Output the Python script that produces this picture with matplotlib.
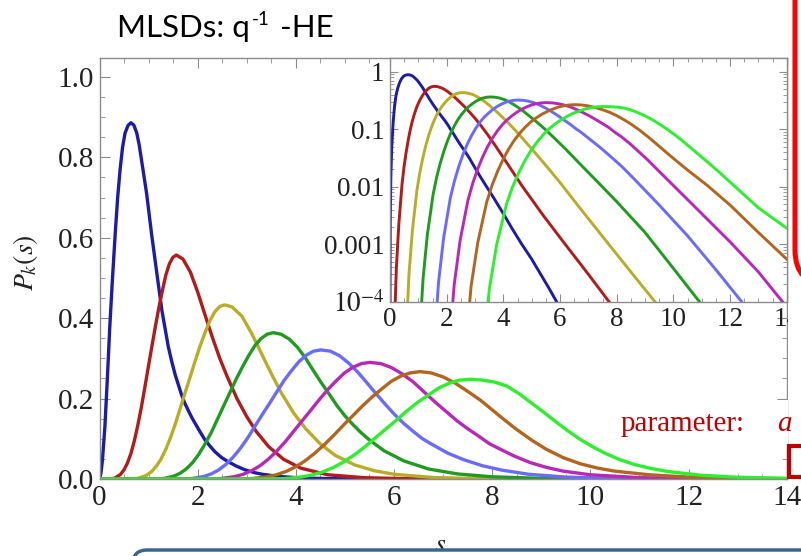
import numpy as np
import matplotlib
matplotlib.use('Agg')
import matplotlib.pyplot as plt
from matplotlib.patches import FancyBboxPatch, Rectangle
from matplotlib.transforms import Affine2D
from matplotlib.ticker import (MultipleLocator, FixedLocator, FixedFormatter,
                               LogLocator, NullFormatter, FormatStrFormatter)

plt.rcParams['mathtext.fontset'] = 'stix'
plt.rcParams['font.family'] = ['Liberation Serif', 'DejaVu Sans']

# ---------------- data ----------------
s_blue = [0, 0.002, 0.01, 0.03, 0.06, 0.11, 0.16, 0.21, 0.265, 0.32, 0.37, 0.42, 0.47, 0.52, 0.58,
          0.64, 0.70, 0.76, 0.81, 0.86, 0.91, 0.96, 1.01, 1.06, 1.115, 1.17, 1.22, 1.27, 1.335, 1.40,
          1.47, 1.54, 1.61, 1.67, 1.74, 1.81, 1.88, 1.95, 2.05, 2.15, 2.25, 2.35, 2.48, 2.62, 2.79,
          2.96, 3.15, 3.33, 3.65, 4.0, 4.3, 4.65, 5.0, 5.3, 5.6, 5.88, 6.5, 8.0, 14.0]
p_blue = [0, 1.8e-4, 0.0025, 0.015, 0.047, 0.13, 0.25, 0.38, 0.50, 0.61, 0.70, 0.77, 0.825, 0.86, 0.879,
          0.886, 0.880, 0.86, 0.83, 0.79, 0.75, 0.71, 0.66, 0.61, 0.56, 0.51, 0.465, 0.42, 0.375, 0.33,
          0.293, 0.26, 0.233, 0.21, 0.188, 0.17, 0.153, 0.138, 0.117, 0.097, 0.082, 0.068, 0.054, 0.043, 0.032,
          0.023, 0.016, 0.0115, 0.0065, 0.0034, 0.0019, 0.001, 5.5e-4, 3.1e-4, 1.75e-4, 1e-4, 3.2e-5, 2e-6, 1e-10]

s_red = [0, 0.111, 0.168, 0.225, 0.311, 0.425, 0.496, 0.567, 0.639, 0.71, 0.781, 0.852, 0.924, 0.995, 1.066,
         1.138, 1.209, 1.28, 1.351, 1.423, 1.494, 1.565, 1.7, 1.85, 2.0, 2.15, 2.3, 2.45, 2.6, 2.8,
         3.0, 3.2, 3.45, 3.75, 4.1, 4.65, 5.4, 6.18, 7.0, 7.73, 9.0, 14.0]
p_red = [0, 0, 5.6e-5, 3.9e-4, 0.0022, 0.0111, 0.0223, 0.039, 0.063, 0.095, 0.134, 0.178, 0.228, 0.279, 0.329,
         0.379, 0.426, 0.468, 0.507, 0.535, 0.551, 0.557, 0.547, 0.515, 0.465, 0.408, 0.352, 0.30, 0.255, 0.20,
         0.155, 0.117, 0.08, 0.049, 0.027, 0.0105, 0.0032, 0.001, 3e-4, 1e-4, 1.4e-5, 1e-10]

s_olive = [0, 0.51, 0.59, 0.67, 0.79, 0.95, 1.05, 1.15, 1.25, 1.35, 1.45, 1.55, 1.65, 1.75, 1.85,
           1.95, 2.05, 2.15, 2.25, 2.35, 2.45, 2.55, 2.7, 2.9, 3.1, 3.3, 3.5, 3.7, 3.95, 4.2,
           4.5, 4.8, 5.2, 5.6, 6.0, 6.8, 7.65, 8.5, 9.35, 11.0, 14.0]
p_olive = [0, 0, 4.3e-5, 3.0e-4, 0.00173, 0.00866, 0.0173, 0.0303, 0.0489, 0.0736, 0.104, 0.139, 0.178, 0.217, 0.255,
           0.294, 0.331, 0.364, 0.394, 0.416, 0.429, 0.433, 0.428, 0.405, 0.362, 0.312, 0.262, 0.215, 0.165, 0.125,
           0.087, 0.059, 0.035, 0.0205, 0.0118, 0.0037, 0.0011, 3.3e-4, 1e-4, 9e-6, 1e-10]

s_green = [0, 0.964, 1.065, 1.166, 1.318, 1.52, 1.646, 1.772, 1.899, 2.025, 2.151, 2.278, 2.404, 2.53, 2.656,
           2.783, 2.909, 3.035, 3.161, 3.288, 3.414, 3.54, 3.70, 3.865, 4.03, 4.19, 4.35, 4.515, 4.68, 4.84,
           5.0, 5.165, 5.33, 5.49, 5.8, 6.2, 6.7, 7.3, 8.0, 9.0, 10.0, 10.92, 12.0, 14.0]
p_green = [0, 0, 3.6e-5, 2.5e-4, 0.00146, 0.00728, 0.0146, 0.0255, 0.0411, 0.0619, 0.0874, 0.116, 0.149, 0.182, 0.215,
           0.248, 0.278, 0.306, 0.331, 0.349, 0.360, 0.364, 0.360, 0.348, 0.328, 0.302, 0.271, 0.240, 0.211, 0.182,
           0.157, 0.135, 0.115, 0.098, 0.07, 0.045, 0.025, 0.0125, 0.0055, 0.0016, 3.8e-4, 1e-4, 1.2e-5, 1e-10]

s_lblue = [0, 1.475, 1.594, 1.714, 1.892, 2.13, 2.279, 2.428, 2.576, 2.725, 2.874, 3.023, 3.171, 3.32, 3.469,
           3.618, 3.766, 3.915, 4.064, 4.213, 4.361, 4.51, 4.70, 4.885, 5.07, 5.26, 5.45, 5.635, 5.82, 6.01,
           6.20, 6.385, 6.57, 6.76, 7.1, 7.42, 7.8, 8.2, 8.74, 9.5, 10.5, 11.5, 12.41, 13.5, 14.0]
p_lblue = [0, 0, 3.2e-5, 2.2e-4, 0.00128, 0.00642, 0.0128, 0.0225, 0.0363, 0.0546, 0.077, 0.103, 0.132, 0.161, 0.189,
           0.218, 0.246, 0.270, 0.292, 0.308, 0.318, 0.321, 0.318, 0.307, 0.289, 0.266, 0.239, 0.212, 0.186, 0.1605,
           0.138, 0.119, 0.101, 0.087, 0.064, 0.048, 0.033, 0.022, 0.0118, 0.0048, 0.0014, 3.6e-4, 1e-4, 1.5e-5, 5e-6]

s_magenta = [0, 1.991, 2.129, 2.267, 2.474, 2.75, 2.923, 3.095, 3.268, 3.44, 3.613, 3.785, 3.958, 4.13, 4.303,
             4.475, 4.648, 4.82, 4.993, 5.165, 5.338, 5.51, 5.73, 5.95, 6.17, 6.395, 6.616, 6.84, 7.06, 7.28,
             7.50, 7.72, 7.94, 8.165, 8.45, 8.77, 9.1, 9.45, 10.0, 11.0, 12.0, 13.0, 13.85, 14.0]
p_magenta = [0, 0, 2.9e-5, 2.0e-4, 0.00116, 0.0058, 0.0116, 0.0203, 0.0328, 0.0493, 0.0696, 0.0928, 0.119, 0.145, 0.171,
             0.197, 0.222, 0.244, 0.264, 0.278, 0.287, 0.29, 0.287, 0.277, 0.261, 0.241, 0.216, 0.191, 0.168, 0.145,
             0.125, 0.107, 0.088, 0.074, 0.057, 0.041, 0.029, 0.0195, 0.0105, 0.0034, 0.0011, 3.3e-4, 1e-4, 8e-5]

s_brown = [0, 2.552, 2.708, 2.864, 3.098, 3.41, 3.605, 3.80, 3.995, 4.19, 4.385, 4.58, 4.775, 4.97, 5.165,
           5.36, 5.555, 5.75, 5.945, 6.14, 6.335, 6.53, 6.75, 7.0, 7.25, 7.5, 7.76, 8.0, 8.25, 8.5,
           8.8, 9.1, 9.45, 9.79, 10.15, 10.5, 11.2, 12.0, 13.0, 14.0]
p_brown = [0, 0, 2.7e-5, 1.9e-4, 0.00107, 0.00534, 0.0107, 0.0187, 0.0302, 0.0454, 0.0641, 0.0854, 0.109, 0.134, 0.158,
           0.182, 0.204, 0.224, 0.243, 0.256, 0.264, 0.267, 0.264, 0.254, 0.238, 0.218, 0.196, 0.172, 0.147, 0.123,
           0.097, 0.074, 0.053, 0.038, 0.027, 0.0195, 0.0105, 0.0048, 0.0016, 5.5e-4]

s_lgreen = [0, 3.164, 3.336, 3.508, 3.766, 4.11, 4.325, 4.54, 4.755, 4.97, 5.185, 5.40, 5.615, 5.83, 6.045,
            6.26, 6.475, 6.69, 6.905, 7.12, 7.335, 7.55, 7.8, 8.05, 8.3, 8.55, 8.8, 9.05, 9.3, 9.55,
            9.8, 10.05, 10.3, 10.6, 10.9, 11.2, 11.56, 12.23, 13.0, 14.0]
p_lgreen = [0, 0, 2.5e-5, 1.7e-4, 9.9e-4, 0.00496, 0.00992, 0.0174, 0.028, 0.0422, 0.0595, 0.0794, 0.102, 0.124, 0.146,
            0.169, 0.190, 0.208, 0.226, 0.238, 0.246, 0.248, 0.246, 0.241, 0.231, 0.212, 0.189, 0.166, 0.142, 0.119,
            0.098, 0.080, 0.064, 0.048, 0.036, 0.027, 0.019, 0.0095, 0.0043, 0.0019]

series = [(s_blue, p_blue, '#1c1ca8'), (s_red, p_red, '#b31b1b'), (s_olive, p_olive, '#b9ad27'),
          (s_green, p_green, '#1f9c1f'), (s_lblue, p_lblue, '#6a6aff'), (s_magenta, p_magenta, '#b927b9'),
          (s_brown, p_brown, '#b3651f'), (s_lgreen, p_lgreen, '#2cf02c')]

x_ticks_main = [0, 2, 4, 6, 8, 10, 12, 14]
y_ticks_main = [0.0, 0.2, 0.4, 0.6, 0.8, 1.0]
y_ticks_inset = [1e-4, 1e-3, 1e-2, 1e-1, 1]
y_labels_inset = [r'$10^{-4}$', '0.001', '0.01', '0.1', '1']

# ---------------- figure ----------------
W, H = 801, 556
fig = plt.figure(figsize=(W / 100, H / 100), dpi=100)
px = Affine2D().scale(1 / W, -1 / H).translate(0, 1) + fig.transFigure


def frac_box(x0, y0, x1, y1):
    return [x0 / W, 1 - y1 / H, (x1 - x0) / W, (y1 - y0) / H]


frame_c = '#8c8c8c'
lab_c = '#222222'

# main axes
ax = fig.add_axes(frac_box(99.5, 58, 786.7, 479))
for s, p, c in series:
    ax.plot(s, p, color=c, lw=2.4, solid_joinstyle='round', solid_capstyle='round')
ax.set_xlim(0, 14)
ax.set_ylim(0, 1.047)
ax.xaxis.set_major_locator(FixedLocator(x_ticks_main))
ax.xaxis.set_minor_locator(MultipleLocator(0.5))
ax.yaxis.set_major_locator(FixedLocator(y_ticks_main))
ax.yaxis.set_minor_locator(MultipleLocator(0.05))
ax.yaxis.set_major_formatter(FormatStrFormatter('%.1f'))
for sp in ax.spines.values():
    sp.set_color(frame_c)
    sp.set_linewidth(1.0)
ax.tick_params(which='both', direction='in', top=True, right=True, color=frame_c)
ax.tick_params(which='major', length=7, width=0.8, labelsize=21, labelcolor=lab_c, pad=4)
ax.tick_params(which='minor', length=3.5, width=0.6)

# inset axes
axi = fig.add_axes(frac_box(390, 58.3, 786.7, 301.7))
axi.set_zorder(3)
for s, p, c in series:
    axi.plot(s, p, color=c, lw=2.1, solid_joinstyle='round')
axi.set_yscale('log')
axi.set_xlim(0, 14)
axi.set_ylim(1e-4, 1.71)
axi.xaxis.set_major_locator(FixedLocator(x_ticks_main))
axi.xaxis.set_minor_locator(MultipleLocator(0.5))
axi.yaxis.set_major_locator(FixedLocator(y_ticks_inset))
axi.yaxis.set_major_formatter(FixedFormatter(y_labels_inset))
axi.yaxis.set_minor_locator(LogLocator(base=10, subs=np.arange(2, 10) * 1.0, numticks=20))
axi.yaxis.set_minor_formatter(NullFormatter())
for sp in axi.spines.values():
    sp.set_color(frame_c)
    sp.set_linewidth(1.0)
axi.tick_params(which='both', direction='in', top=True, right=True, color=frame_c)
axi.tick_params(which='major', length=6, width=0.8, labelsize=19.5, labelcolor=lab_c, pad=4)
axi.tick_params(which='minor', length=3, width=0.6)

# axis labels
fig.text(25 / W, 1 - 263 / H, r'$P_k(s)$', rotation=90, fontsize=20, color=lab_c,
         ha='center', va='center')
fig.text(440 / W, 1 - 545 / H, r'$s$', fontsize=20, color=lab_c, ha='center', va='center')

# title of the slide: "MLSDs: q" + superscript "-1" + " -HE"
renderer = fig.canvas.get_renderer()
tfam = ['Lato', 'DejaVu Sans']
t1 = fig.text(117 / W, 1 - 37 / H, 'MLSDs: q', fontsize=22.5, family=tfam, color='black',
              va='baseline', ha='left')
x1 = t1.get_window_extent(renderer).x1
t2 = fig.text((x1 + 2) / W, 1 - 25 / H, '-1', fontsize=13.5, family=tfam, color='black',
              va='baseline', ha='left')
x2 = t2.get_window_extent(renderer).x1
fig.text((x2 + 2) / W, 1 - 37 / H, ' -HE', fontsize=22.5, family=tfam, color='black',
         va='baseline', ha='left')

# slide decorations
fig.add_artist(Rectangle((788, 303), 13, 97, transform=px, fc='white', ec='none', zorder=20))
fig.add_artist(Rectangle((603, 400), 185, 47, transform=px, fc='white', ec='none', zorder=20))
fig.text(621 / W, 1 - 431 / H, 'parameter:', fontsize=21, color='#c00000', va='baseline',
         ha='left', zorder=21)
fig.text(777 / W, 1 - 431 / H, 'a', fontsize=21, color='#c00000', style='italic',
         va='baseline', ha='left', zorder=21)
fig.add_artist(FancyBboxPatch((795, -100), 200, 385, boxstyle='round,pad=0,rounding_size=35',
                              transform=px, fc='white', ec='#ff0000', lw=3.6, zorder=22))
fig.add_artist(Rectangle((789, 446), 40, 31, transform=px, fc='white', ec='#c00000',
                         lw=3.0, zorder=22))
fig.add_artist(FancyBboxPatch((133, 550), 800, 100, boxstyle='round,pad=0,rounding_size=14',
                              transform=px, fc='white', ec='#3d6491', lw=2.5, zorder=22))

fig.savefig('out.png', dpi=100)
